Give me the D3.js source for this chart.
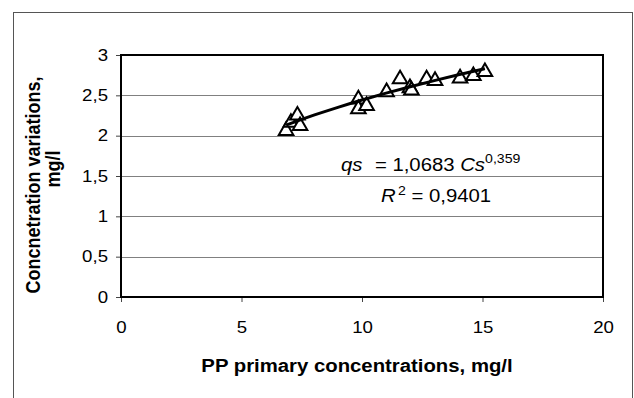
<!DOCTYPE html>
<html>
<head>
<meta charset="utf-8">
<script src="https://cdn.jsdelivr.net/npm/d3@7"></script>
<style>
  body { margin: 0; background: #fff; }
  svg { display: block; font-family: "Liberation Sans", Arial, sans-serif; }
</style>
</head>
<body>
<svg id="chart" width="634" height="398"></svg>
<script>
// Tick values
const xTicks = [0, 5, 10, 15, 20];
const yTicks = [0, 0.5, 1, 1.5, 2, 2.5, 3];

// Measured points (PP primary concentration vs concentration variation)
const ppX = [6.85, 7.05, 7.32, 7.43, 9.85, 9.85, 10.19, 11.02, 11.58, 11.99, 12.05, 12.68, 13.03, 14.07, 14.62, 15.1];
const concY = [2.08, 2.18, 2.27, 2.14, 2.47, 2.35, 2.39, 2.56, 2.72, 2.61, 2.58, 2.72, 2.70, 2.73, 2.76, 2.81];

// Power trendline shown on the chart: qs = 1,0683 Cs^0,359
const trendA = 1.0683;
const trendB = 0.359;
const trendX = [6.85, 7.5, 8, 9, 10, 11, 12, 13, 14, 15.1];

const xTitle = "PP primary concentrations, mg/l";
const yTitle = ["Concnetration variations,", "mg/l"];

const stretch = 1.13; // the picture is slightly wider than tall
const commaFmt = (d) => String(d).replace(".", ",");

const svg = d3.select("#chart");
const margin = { top: 55, right: 31, bottom: 101, left: 121 };
const W = 634, H = 398;

const x = d3.scaleLinear().domain([0, 20]).range([margin.left, W - margin.right]);
const y = d3.scaleLinear().domain([0, 3]).range([H - margin.bottom, margin.top]);

// Outer chart frame
svg.append("rect")
  .attr("x", 13.5).attr("y", 12.5)
  .attr("width", 619).attr("height", 400)
  .attr("fill", "none").attr("stroke", "#555").attr("stroke-width", 1);

// Gridlines
svg.append("g")
  .selectAll("line")
  .data(yTicks.filter((d) => d > 0 && d < 3))
  .enter()
  .append("line")
  .attr("x1", x(0)).attr("x2", x(20))
  .attr("y1", (d) => Math.round(y(d)) + 0.5)
  .attr("y2", (d) => Math.round(y(d)) + 0.5)
  .attr("stroke", "#808080").attr("stroke-width", 1);

// Axes
const yAxis = svg.append("g")
  .attr("transform", `translate(${x(0)},0)`)
  .call(d3.axisLeft(y).tickValues(yTicks).tickSize(5).tickFormat(commaFmt));
const xAxis = svg.append("g")
  .attr("transform", `translate(0,${y(0)})`)
  .call(d3.axisBottom(x).tickValues(xTicks).tickSize(5).tickPadding(19).tickFormat(commaFmt));

[xAxis, yAxis].forEach((g) => {
  g.select(".domain").remove();
  g.selectAll(".tick line").attr("stroke", "#444");
  g.selectAll(".tick text")
    .attr("fill", "#000")
    .style("font-size", "16.5px")
    .attr("transform", `scale(${stretch},1)`);
});
yAxis.selectAll(".tick text").attr("x", -13 / stretch);

// Plot border
svg.append("rect")
  .attr("x", x(0)).attr("y", y(3))
  .attr("width", x(20) - x(0)).attr("height", y(0) - y(3))
  .attr("fill", "none").attr("stroke", "#000").attr("stroke-width", 2);

// Markers
const points = ppX.map((v, i) => ({ x: v, y: concY[i] }));
svg.append("g")
  .selectAll("path")
  .data(points)
  .enter()
  .append("path")
  .attr("d", d3.symbol(d3.symbolTriangle, 92))
  .attr("transform", (d) => `translate(${x(d.x)},${y(d.y) + 1.5})`)
  .attr("fill", "#fff")
  .attr("stroke", "#000")
  .attr("stroke-width", 2);

// Trendline
const trend = trendX.map((v) => ({ x: v, y: trendA * Math.pow(v, trendB) }));
svg.append("path")
  .datum(trend)
  .attr("fill", "none")
  .attr("stroke", "#000")
  .attr("stroke-width", 3)
  .attr("d", d3.line().x((d) => x(d.x)).y((d) => y(d.y)).curve(d3.curveMonotoneX));

// Equation labels
const eq1 = svg.append("text")
  .attr("transform", `translate(341,171) scale(${stretch},1)`)
  .style("font-size", "18px").attr("fill", "#000");
eq1.append("tspan").style("font-style", "italic").text("qs");
eq1.append("tspan").attr("dx", 6).text(" = 1,0683 ");
eq1.append("tspan").style("font-style", "italic").text("Cs");
eq1.append("tspan").attr("dy", -8).style("font-size", "12.5px").text("0,359");

const eq2 = svg.append("text")
  .attr("transform", `translate(381,202) scale(${stretch},1)`)
  .style("font-size", "18px").attr("fill", "#000");
eq2.append("tspan").style("font-style", "italic").text("R");
eq2.append("tspan").attr("dx", 2).attr("dy", -7).style("font-size", "12.5px").text("2");
eq2.append("tspan").attr("dy", 7).text(" = 0,9401");

// Axis titles
svg.append("text")
  .attr("transform", `translate(357,372) scale(${stretch},1)`)
  .attr("text-anchor", "middle")
  .style("font-size", "18px").style("font-weight", "bold")
  .text(xTitle);

svg.append("text")
  .attr("transform", `translate(40,185) rotate(-90) scale(1,${stretch})`)
  .attr("text-anchor", "middle")
  .style("font-size", "18px").style("font-weight", "bold")
  .text(yTitle[0]);
svg.append("text")
  .attr("transform", `translate(60,169) rotate(-90) scale(1,${stretch})`)
  .attr("text-anchor", "middle")
  .style("font-size", "18px").style("font-weight", "bold")
  .text(yTitle[1]);
</script>
</body>
</html>
